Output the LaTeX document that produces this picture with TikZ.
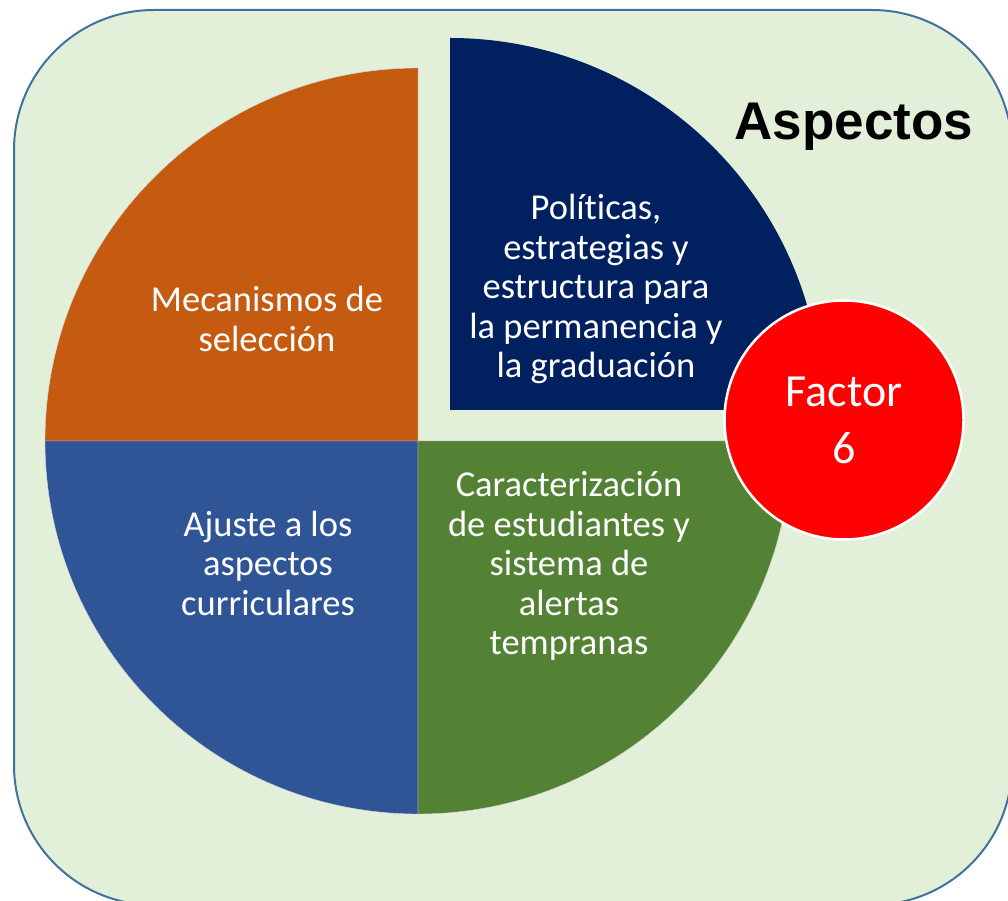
\documentclass[tikz,border=0pt]{standalone}
\usepackage{fontspec}
\setmainfont{Carlito}[Ligatures=NoCommon]
\newfontfamily\arialbold{Liberation Sans}[BoldFont={Liberation Sans Bold}]
\definecolor{bgfill}{HTML}{E2F0D9}
\definecolor{bgline}{HTML}{41719C}
\definecolor{orangeq}{HTML}{C55A11}
\definecolor{navyq}{HTML}{002060}
\definecolor{blueq}{HTML}{2F5597}
\definecolor{greenq}{HTML}{548235}
\definecolor{redc}{HTML}{FF0000}
\tikzset{
  wedge/.style={draw=white!85!black, line width=0.4pt},
  wtext/.style={text=white, align=center, font=\fontsize{36.5}{39.5}\selectfont, inner sep=0pt},
}
\begin{document}
\begin{tikzpicture}[x=1pt,y=1pt]
\useasboundingbox (0,0) rectangle (1008,900);
% background panel
\node[draw=bgline, fill=bgfill, line width=2pt, rounded corners=140pt, minimum width=998pt, minimum height=895pt, inner sep=0pt] (panel) at (513,442.5) {};
% pie quadrants
\coordinate (pc) at (418,459);
\coordinate (nc) at (450,490);
\fill[orangeq, wedge] (pc) -- ++(180:373) arc[start angle=180, end angle=90, radius=373] -- cycle;
\fill[blueq, wedge] (pc) -- ++(180:373) arc[start angle=180, end angle=270, radius=373] -- cycle;
\fill[greenq, wedge] (pc) -- ++(270:373) arc[start angle=270, end angle=360, radius=373] -- cycle;
\fill[navyq] (nc) -- ++(90:372) arc[start angle=90, end angle=0, radius=372] -- cycle;
% texts
\node[wtext] (t1) at (267,581) {Mecanismos de\\selección};
\node[wtext] (t2) at (596,611) {Políticas,\\estrategias y\\estructura para\\la permanencia y\\la graduación};
\node[wtext] (t3) at (268,337) {Ajuste a los\\aspectos\\curriculares};
\node[wtext] (t4) at (569,334) {Caracterización\\de estudiantes y\\sistema de\\alertas\\tempranas};
% factor circle
\node[circle, fill=redc, draw=white, line width=2.5pt, minimum size=239pt, inner sep=0pt] (fc) at (844,480) {};
\node[text=white, align=center, font=\fontsize{46}{57}\selectfont, inner sep=0pt] (ft) at (fc.center) {Factor\\6};
% title
\node[anchor=base, font=\arialbold\bfseries\fontsize{53}{60}\selectfont, inner sep=0pt] (title) at (854,760) {Aspectos};
\end{tikzpicture}
\end{document}
